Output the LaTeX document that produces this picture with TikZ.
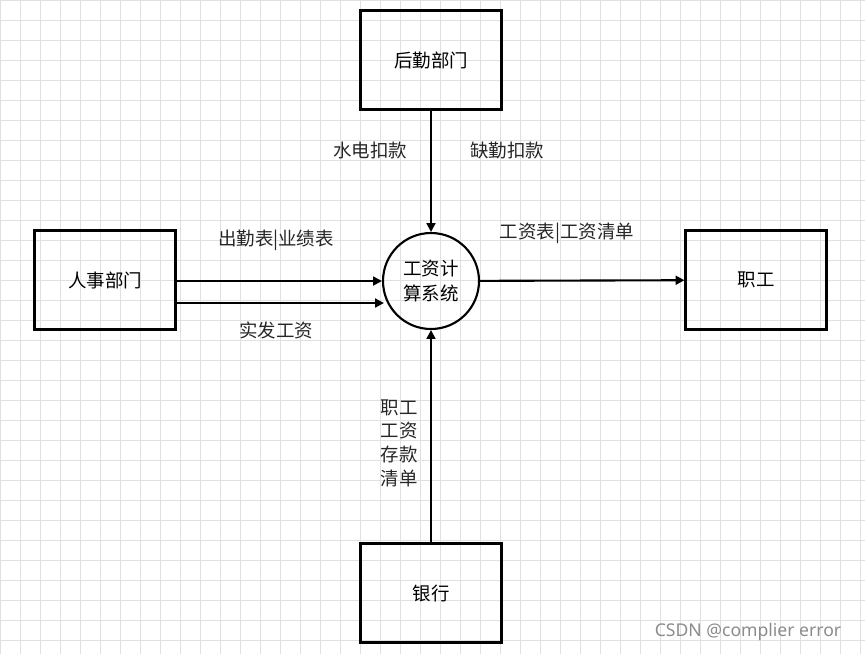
\documentclass[tikz,border=0pt]{standalone}
\usepackage{fontspec}
\newfontfamily\cjk{Noto Sans CJK SC}
\usetikzlibrary{arrows.meta}
\begin{document}
\begin{tikzpicture}[x=0.02cm,y=-0.02cm,
  box/.style={draw,line width=1.2pt,minimum width=141*0.02cm,minimum height=99*0.02cm,font=\cjk\fontsize{10.5}{12}\selectfont},
  lbl/.style={font=\cjk\fontsize{10.5}{12}\selectfont,text=black!85},
  arr/.style={line width=1.2pt,-{Triangle[length=5pt,width=5pt]}}]
\useasboundingbox (0,0) rectangle (865,654);
\fill[white] (0,0) rectangle (865,654);
\draw[black!12,line width=0.4pt] (0,0) grid[step=20*0.02cm] (865,654);
\node[box] (hq) at (431,60) {后勤部门};
\node[box] (rs) at (105,280) {人事部门};
\node[box] (zg) at (756,280) {职工};
\node[box] (yh) at (431,593) {银行};
\node[draw,circle,line width=1.2pt,minimum size=96*0.02cm,align=center,inner sep=0pt,font=\cjk\fontsize{10.5}{14}\selectfont] (c) at (431,281) {工资计\\算系统};
\coordinate (a1) at (176,281);
\coordinate (a2) at (176,303);
\draw[arr] (hq) -- (c);
\draw[arr] (a1) -- (c.west);
\draw[arr] (a2) -- (c.west |- a2) -- ++(2,0);
\draw[arr] (c) -- (zg);
\draw[arr] (yh) -- (c);
\node[lbl] at (370,150) {水电扣款};
\node[lbl] at (507,150) {缺勤扣款};
\node[lbl] at (276,240) {出勤表|业绩表};
\node[lbl] at (276,330) {实发工资};
\node[lbl] at (567,233) {工资表|工资清单};
\node[lbl,align=center,font=\cjk\fontsize{10.5}{13.5}\selectfont] at (399,443) {职工\\工资\\存款\\清单};
\node[lbl,text=black!45,font=\fontspec{Noto Sans}\fontsize{10}{12}\selectfont] at (748,632) {CSDN @complier error};
\end{tikzpicture}
\end{document}
